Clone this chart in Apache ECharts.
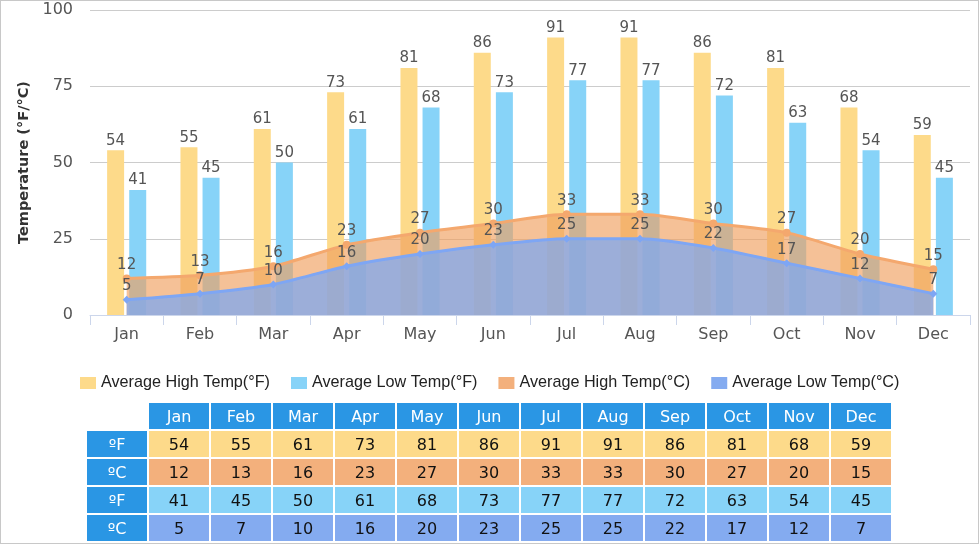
<!DOCTYPE html>
<html>
<head>
<meta charset="utf-8">
<script src="https://cdn.jsdelivr.net/npm/echarts@6/dist/echarts.min.js"></script>
<style>
  html, body { margin: 0; padding: 0; background: #fff; }
  #frame { position: absolute; left: 0; top: 0; width: 979px; height: 544px; border: 1px solid #c8c8c8; box-sizing: border-box; }
  #chart { position: absolute; left: 0; top: 0; width: 980px; height: 549px; }
  #tbl { position: absolute; left: 85px; top: 401px; border-collapse: separate; border-spacing: 2px; font-family: "DejaVu Sans", Verdana, sans-serif; font-size: 16px; }
  #tbl td { width: 60px; height: 26px; padding: 0; text-align: center; vertical-align: middle; color: #111; }
  #tbl td.hd { background: #2a96e4; color: #fff; }
  #tbl td.blank { background: #fff; }
</style>
</head>
<body>
<div id="frame"></div>
<div id="chart"></div>
<table id="tbl"></table>
<script>
const months = ['Jan','Feb','Mar','Apr','May','Jun','Jul','Aug','Sep','Oct','Nov','Dec'];
const highF = [54,55,61,73,81,86,91,91,86,81,68,59];
const lowF  = [41,45,50,61,68,73,77,77,72,63,54,45];
const highC = [12,13,16,23,27,30,33,33,30,27,20,15];
const lowC  = [5,7,10,16,20,23,25,25,22,17,12,7];
const yTicks = { min: 0, max: 100, interval: 25 };
const seriesNames = ['Average High Temp(°F)','Average Low Temp(°F)','Average High Temp(°C)','Average Low Temp(°C)'];
const rowLabels = ['ºF','ºC','ºF','ºC'];

const cYellow = '#fdda8a', cLightBlue = '#87d3f8', cOrange = '#f3b07c', cBlue = '#84abf0';

const chart = echarts.init(document.getElementById('chart'));
const lbl = { show: true, position: 'top', distance: 2, color: '#555', fontSize: 15, fontFamily: 'DejaVu Sans' };
chart.setOption({
  animation: false,
  grid: { left: 90, right: 10, top: 10, bottom: 234, containLabel: false },
  legend: {
    left: 75, top: 370,
    itemWidth: 16, itemHeight: 12, itemGap: 21,
    textStyle: { fontFamily: 'Liberation Sans', fontSize: 16.2, color: '#222' },
    data: seriesNames.map((n, i) => ({ name: n, icon: 'rect', itemStyle: { color: [cYellow, cLightBlue, cOrange, cBlue][i], opacity: 1 } }))
  },
  xAxis: {
    type: 'category', data: months,
    axisLine: { lineStyle: { color: '#ccd6eb', width: 1 } },
    axisTick: { show: true, length: 10, lineStyle: { color: '#ccd6eb' } },
    axisLabel: { color: '#555', fontSize: 16, fontFamily: 'DejaVu Sans', margin: 12 }
  },
  yAxis: {
    type: 'value', min: yTicks.min, max: yTicks.max, interval: yTicks.interval,
    name: 'Temperature (°F/°C)', nameLocation: 'middle', nameGap: 54, nameRotate: 90,
    nameTextStyle: { color: '#333', fontSize: 14.5, fontWeight: 'bold', fontFamily: 'DejaVu Sans' },
    axisLine: { show: false }, axisTick: { show: false },
    axisLabel: { color: '#555', fontSize: 16, fontFamily: 'DejaVu Sans', margin: 17 },
    splitLine: { lineStyle: { color: '#cccccc' } }
  },
  series: [
    { name: seriesNames[0], type: 'bar', data: highF, barWidth: 17, barGap: '30%', itemStyle: { color: cYellow }, label: lbl, z: 1 },
    { name: seriesNames[1], type: 'bar', data: lowF, barWidth: 17, barGap: '30%', itemStyle: { color: cLightBlue }, label: lbl, z: 1 },
    { name: seriesNames[2], type: 'line', data: highC, smooth: 0.25, symbol: 'circle', symbolSize: 8,
      lineStyle: { color: '#f4a86e', width: 3 }, itemStyle: { color: '#f4a86e' },
      areaStyle: { color: '#f0a060', opacity: 0.65 }, label: lbl, z: 3 },
    { name: seriesNames[3], type: 'line', data: lowC, smooth: 0.25, symbol: 'diamond', symbolSize: 8,
      lineStyle: { color: '#7ea6f4', width: 3 }, itemStyle: { color: '#7ea6f4' },
      areaStyle: { color: '#7fa8f0', opacity: 0.75 }, label: lbl, z: 4 }
  ]
});

// table
const tbl = document.getElementById('tbl');
const rows = [highF, highC, lowF, lowC];
const rowColors = [cYellow, cOrange, cLightBlue, cBlue];
let html = '<tr><td class="blank"></td>' + months.map(m => '<td class="hd">' + m + '</td>').join('') + '</tr>';
rows.forEach((r, i) => {
  html += '<tr><td class="hd">' + rowLabels[i] + '</td>' + r.map(v => '<td style="background:' + rowColors[i] + '">' + v + '</td>').join('') + '</tr>';
});
tbl.innerHTML = html;
</script>
</body>
</html>
